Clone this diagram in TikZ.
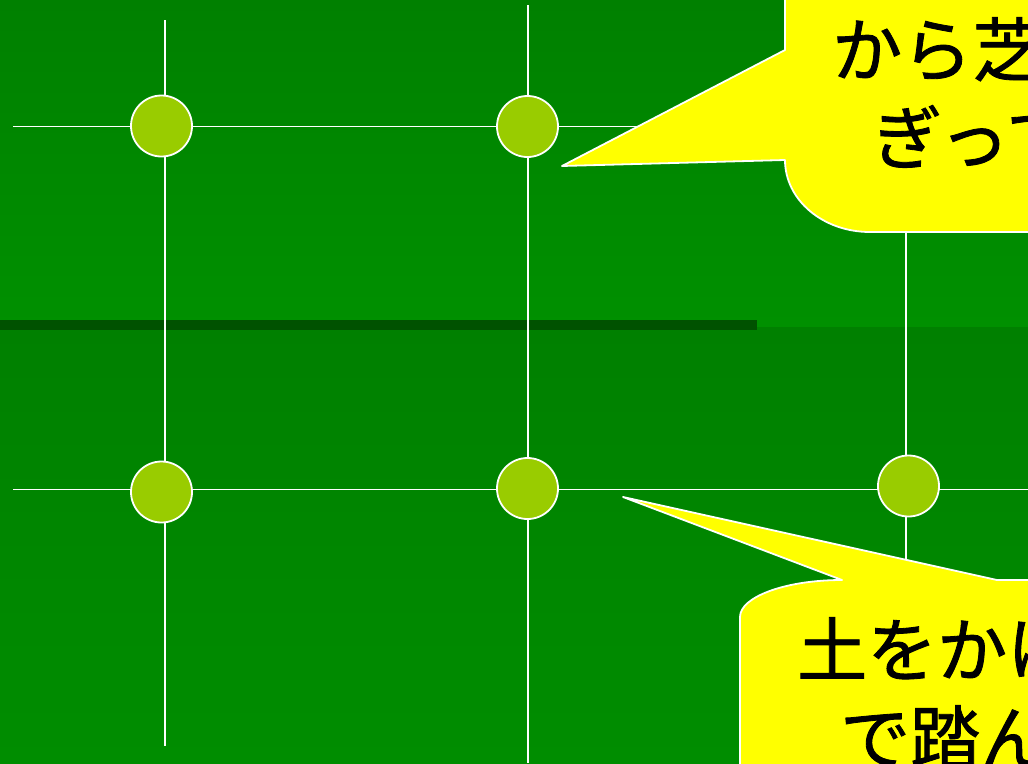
\documentclass[tikz,border=0pt]{standalone}
\usepackage{fontspec}
\newfontfamily\jp[FakeBold=1.2]{Noto Sans CJK JP}
\definecolor{bgA}{RGB}{0,128,0}
\definecolor{bgB}{RGB}{0,144,0}
\definecolor{bgC}{RGB}{0,141,0}
\definecolor{barC}{RGB}{0,82,0}
\definecolor{dotC}{RGB}{153,204,0}
\definecolor{callC}{RGB}{255,255,0}
\tikzset{
  gridline/.style={draw=white, line width=1.8pt},
  dot/.style={circle, minimum size=61pt, inner sep=0pt, fill=dotC, draw=white, line width=1.8pt},
  callout/.style={fill=callC, draw=white, line width=1.8pt, line join=round},
  txt/.style={font=\jp\fontsize{70}{70}\selectfont, inner sep=0pt, anchor=base west, text=black}
}
\begin{document}
\begin{tikzpicture}[x=1pt,y=-1pt]
\useasboundingbox (0,0) rectangle (1028,763);
\clip (0,0) rectangle (1028,763);
% background
\shade[top color=bgA, bottom color=bgB] (0,0) rectangle (1028,327);
\shade[top color=bgA, bottom color=bgC] (0,327) rectangle (1028,763);
\fill[barC] (0,320) rectangle (757,330);
% grid end points
\coordinate (v1t) at (165,20);
\coordinate (v1b) at (165,746);
\coordinate (v2t) at (528,5);
\coordinate (v2b) at (528,763);
\coordinate (v3t) at (906,0);
\coordinate (v3b) at (906,620);
\coordinate (h1l) at (13,126.5);
\coordinate (h1r) at (1028,126.5);
\coordinate (h2l) at (13,489.5);
\coordinate (h2r) at (1028,489.5);
\draw[gridline] (v1t) -- (v1b);
\draw[gridline] (v2t) -- (v2b);
\draw[gridline] (v3t) -- (v3b);
\draw[gridline] (h1l) -- (h1r);
\draw[gridline] (h2l) -- (h2r);
% dots
\node[dot] (d11) at (161.5,126) {};
\node[dot] (d12) at (527.5,126.5) {};
\node[dot] (d21) at (161.5,492) {};
\node[dot] (d22) at (527.5,488.5) {};
\node[dot] (d23) at (908.5,486) {};
% callout top
\draw[callout] (785,-10) -- (785,50) -- (562,166) -- (785,160)
  .. controls (785,200) and (823,232) .. (870,232) -- (1040,232) -- (1040,-10) -- cycle;
% callout bottom
\draw[callout] (740,780) -- (740,617) .. controls (740,597) and (785,580) .. (842,580)
  -- (623,497) -- (997,580) -- (1040,580) -- (1040,780) -- cycle;
% texts
\node[txt] (t1a) at (832,76) {から芝生};
\node[txt] (t1b) at (872,164) {ぎって};
\node[txt] (t2a) at (797,676) {土をかけ};
\node[txt] (t2b) at (840,764) {で踏ん};
\end{tikzpicture}
\end{document}
